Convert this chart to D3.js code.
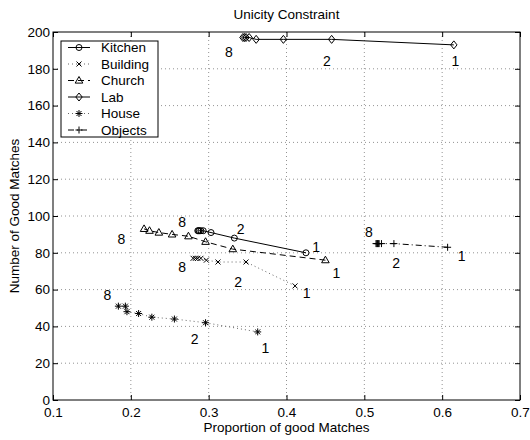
<!DOCTYPE html>
<html>
<head>
<meta charset="utf-8">
<script src="https://cdn.jsdelivr.net/npm/d3@7"></script>
<style>
  body { margin: 0; background: #fff; }
  text { font-family: "Liberation Sans", Arial, sans-serif; fill: #000; }
</style>
</head>
<body>
<svg id="chart" width="530" height="440"></svg>
<script>
// ===== Data =====
const xTicks = [0.1, 0.2, 0.3, 0.4, 0.5, 0.6, 0.7];
const yTicks = [0, 20, 40, 60, 80, 100, 120, 140, 160, 180, 200];

const seriesNames = ["Kitchen", "Building", "Church", "Lab", "House", "Objects"];

const kitchenX = [0.425, 0.333, 0.303, 0.293, 0.290, 0.288, 0.287, 0.286];
const kitchenY = [80, 88, 91, 92, 92, 92, 92, 92];

const buildingX = [0.411, 0.348, 0.312, 0.297, 0.290, 0.286, 0.283, 0.280];
const buildingY = [62, 75, 75, 76, 77, 77, 77, 77];

const churchX = [0.450, 0.331, 0.296, 0.274, 0.253, 0.236, 0.224, 0.217];
const churchY = [76, 82, 86, 89, 90, 91, 92, 93];

const labX = [0.615, 0.458, 0.396, 0.361, 0.352, 0.348, 0.346, 0.344];
const labY = [193, 196, 196, 196, 197, 197, 197, 197];

const houseX = [0.363, 0.296, 0.256, 0.227, 0.210, 0.195, 0.193, 0.184];
const houseY = [37, 42, 44, 45, 47, 48, 51, 51];

const objectsX = [0.607, 0.538, 0.522, 0.519, 0.518, 0.517, 0.516, 0.515];
const objectsY = [83, 85, 85, 85, 85, 85, 85, 85];

// number annotations ("8", "2", "1") near the series
const noteText = ["8", "2", "1",  "8", "2", "1",  "8", "1",  "8", "2", "1",  "8", "2", "1",  "8", "2", "1"];
const noteX = [0.326, 0.452, 0.617,  0.266, 0.341, 0.438,  0.188, 0.464,  0.266, 0.338, 0.426,  0.170, 0.282, 0.373,  0.506, 0.541, 0.625];
const noteY = [189, 184.5, 184,  97, 93, 83.3,  87.3, 69,  72.4, 64.3, 58.2,  57.1, 33, 28,  91.5, 74.6, 78.3];

// ===== Layout =====
const svg = d3.select("#chart");
const margin = { top: 32, right: 10, bottom: 40, left: 53 };
const width = +svg.attr("width") - margin.left - margin.right;
const height = +svg.attr("height") - margin.top - margin.bottom;
const g = svg.append("g").attr("transform", `translate(${margin.left},${margin.top})`);

const x = d3.scaleLinear().domain([0.1, 0.7]).range([0, width]);
const y = d3.scaleLinear().domain([0, 200]).range([height, 0]);

const FS = "13.5px";

// dotted grid
g.append("g").selectAll("line").data(xTicks.slice(1, -1)).join("line")
  .attr("x1", d => x(d)).attr("x2", d => x(d))
  .attr("y1", 0).attr("y2", height)
  .attr("stroke", "#777").attr("stroke-width", 0.8).attr("stroke-dasharray", "1,3");
g.append("g").selectAll("line").data(yTicks.slice(1, -1)).join("line")
  .attr("x1", 0).attr("x2", width)
  .attr("y1", d => y(d)).attr("y2", d => y(d))
  .attr("stroke", "#777").attr("stroke-width", 0.8).attr("stroke-dasharray", "1,3");

// axes with inward ticks (matlab style)
const fmtX = d3.format(".1f");
const xAxisG = g.append("g").attr("transform", `translate(0,${height})`)
  .call(d3.axisBottom(x).tickValues(xTicks).tickFormat(fmtX).tickSize(-5).tickPadding(7));
const yAxisG = g.append("g")
  .call(d3.axisLeft(y).tickValues(yTicks).tickSize(-5).tickPadding(3));
g.append("g").call(d3.axisTop(x).tickValues(xTicks).tickSize(-5).tickFormat(""));
g.append("g").attr("transform", `translate(${width},0)`)
  .call(d3.axisRight(y).tickValues(yTicks).tickSize(-5).tickFormat(""));
g.selectAll(".domain").remove();
g.selectAll(".tick line").attr("stroke", "#000");
g.selectAll(".tick text").style("font-size", FS).style("font-family", "Liberation Sans, Arial, sans-serif");

g.append("rect")
  .attr("width", width).attr("height", height)
  .attr("fill", "none").attr("stroke", "#000").attr("stroke-width", 1);

// title and axis labels
svg.append("text").attr("x", margin.left + width / 2).attr("y", 19)
  .attr("text-anchor", "middle").style("font-size", FS).text("Unicity Constraint");
svg.append("text").attr("x", margin.left + width / 2).attr("y", 432)
  .attr("text-anchor", "middle").style("font-size", FS).text("Proportion of good Matches");
svg.append("text")
  .attr("transform", `translate(19,${margin.top + height / 2}) rotate(-90)`)
  .attr("text-anchor", "middle").style("font-size", FS).text("Number of Good Matches");

// ===== Markers =====
function markerPath(type) {
  const p = d3.path();
  if (type === "circle") {
    p.moveTo(3, 0); p.arc(0, 0, 3, 0, 2 * Math.PI);
  } else if (type === "x") {
    p.moveTo(-2.5, -2.5); p.lineTo(2.5, 2.5); p.moveTo(-2.5, 2.5); p.lineTo(2.5, -2.5);
  } else if (type === "triangle") {
    p.moveTo(0, -4); p.lineTo(3.8, 2.6); p.lineTo(-3.8, 2.6); p.closePath();
  } else if (type === "diamond") {
    p.moveTo(0, -4); p.lineTo(3.2, 0); p.lineTo(0, 4); p.lineTo(-3.2, 0); p.closePath();
  } else if (type === "star") {
    p.moveTo(-3.5, 0); p.lineTo(3.5, 0); p.moveTo(0, -3.5); p.lineTo(0, 3.5);
    p.moveTo(-2.5, -2.5); p.lineTo(2.5, 2.5); p.moveTo(-2.5, 2.5); p.lineTo(2.5, -2.5);
  } else if (type === "plus") {
    p.moveTo(-3.5, 0); p.lineTo(3.5, 0); p.moveTo(0, -3.5); p.lineTo(0, 3.5);
  }
  return p.toString();
}

const styles = {
  Kitchen:  { marker: "circle",   dash: null,        color: "#000" },
  Building: { marker: "x",        dash: "1,3",       color: "#666" },
  Church:   { marker: "triangle", dash: "6,4",       color: "#000" },
  Lab:      { marker: "diamond",  dash: null,        color: "#000" },
  House:    { marker: "star",     dash: "1,3",       color: "#666" },
  Objects:  { marker: "plus",     dash: "6,3,1,3",   color: "#000" }
};

const seriesData = {
  Kitchen: kitchenX.map((v, i) => ({ x: v, y: kitchenY[i] })),
  Building: buildingX.map((v, i) => ({ x: v, y: buildingY[i] })),
  Church: churchX.map((v, i) => ({ x: v, y: churchY[i] })),
  Lab: labX.map((v, i) => ({ x: v, y: labY[i] })),
  House: houseX.map((v, i) => ({ x: v, y: houseY[i] })),
  Objects: objectsX.map((v, i) => ({ x: v, y: objectsY[i] }))
};

const lineGen = d3.line().x(d => x(d.x)).y(d => y(d.y));

seriesNames.forEach(name => {
  const st = styles[name];
  const pts = seriesData[name];
  g.append("path")
    .datum(pts)
    .attr("class", "series")
    .attr("fill", "none")
    .attr("stroke", st.color)
    .attr("stroke-width", 1)
    .attr("stroke-dasharray", st.dash)
    .attr("d", lineGen);
  g.selectAll(null).data(pts).join("path")
    .attr("transform", d => `translate(${x(d.x)},${y(d.y)})`)
    .attr("d", markerPath(st.marker))
    .attr("fill", "none")
    .attr("stroke", "#000")
    .attr("stroke-width", 1);
});

// number annotations
g.selectAll(".note").data(noteText).join("text")
  .attr("class", "note")
  .attr("x", (d, i) => x(noteX[i]))
  .attr("y", (d, i) => y(noteY[i]))
  .attr("text-anchor", "middle")
  .attr("dominant-baseline", "central")
  .style("font-size", "14px")
  .text(d => d);

// ===== Legend =====
const leg = svg.append("g").attr("transform", "translate(61,41)");
leg.append("rect").attr("width", 97).attr("height", 96)
  .attr("fill", "#fff").attr("stroke", "#000").attr("stroke-width", 1);
seriesNames.forEach((name, i) => {
  const st = styles[name];
  const cy = 6.5 + i * 16.5;
  leg.append("line").attr("x1", 7).attr("x2", 29).attr("y1", cy).attr("y2", cy)
    .attr("stroke", st.color).attr("stroke-width", 1).attr("stroke-dasharray", st.dash);
  leg.append("path").attr("transform", `translate(18,${cy})`)
    .attr("d", markerPath(st.marker)).attr("fill", "none").attr("stroke", "#000");
  leg.append("text").attr("x", 40).attr("y", cy).attr("dominant-baseline", "central")
    .style("font-size", FS).text(name);
});
</script>
</body>
</html>
